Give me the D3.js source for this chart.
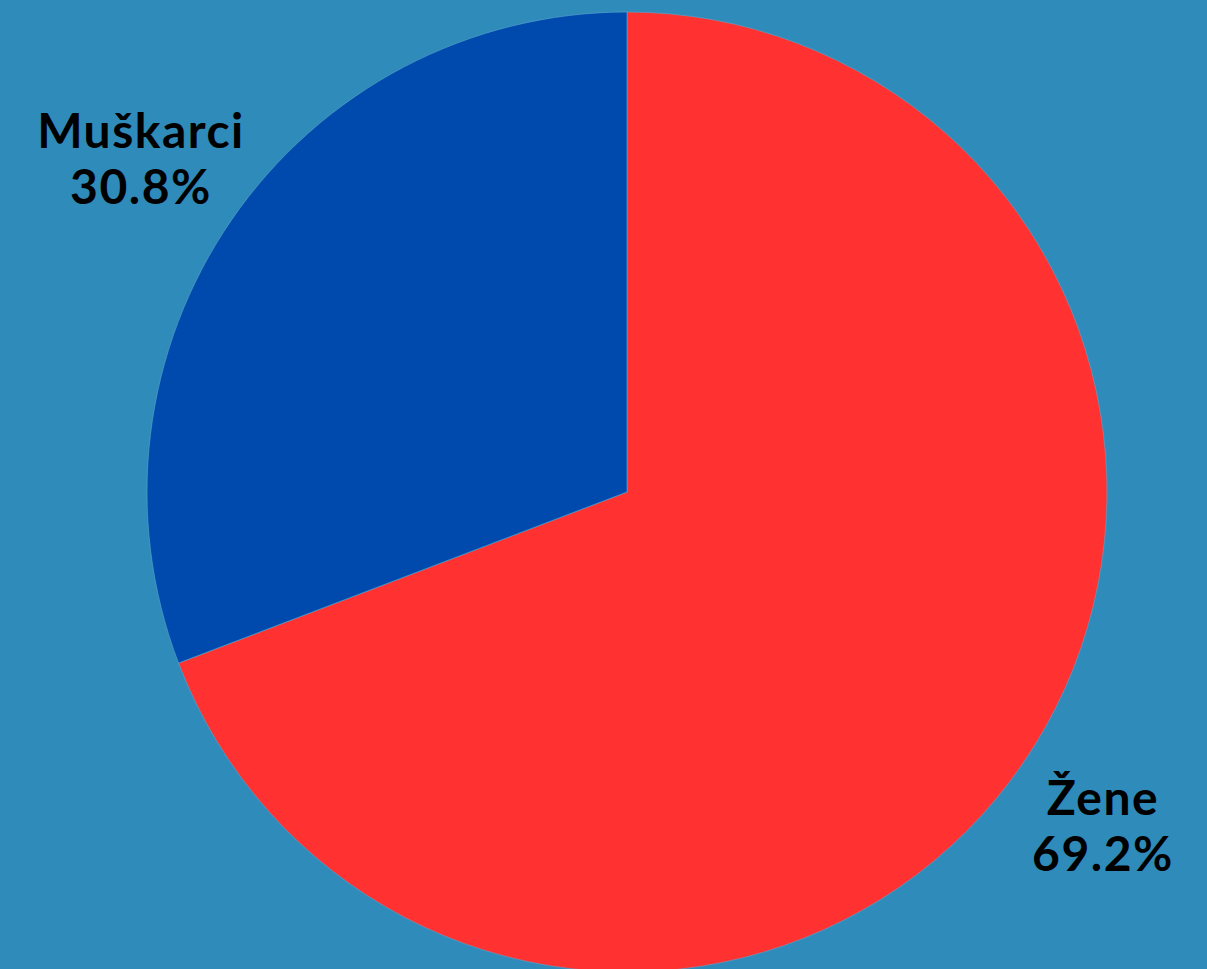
<!DOCTYPE html>
<html><head><meta charset="utf-8">
<script src="https://cdn.jsdelivr.net/npm/d3@7"></script>
<style>html,body{margin:0;padding:0;background:#2E8BBA;overflow:hidden}</style>
</head><body>
<svg id="c" width="1207" height="969"></svg>
<script>
const categories = ["Žene", "Muškarci"];
const values = [69.2, 30.8];
const colors = ["#FF3131", "#004AAD"];
const labelPos = [[1103, 798], [141, 131]];

const svg = d3.select("#c");
const cx = 627, cy = 492, r = 480;
const pie = d3.pie().sort(null).value(d => d)(values);
const arc = d3.arc().innerRadius(0).outerRadius(r);
const g = svg.append("g").attr("transform", `translate(${cx},${cy})`);
g.selectAll("path").data(pie).join("path")
  .attr("d", arc).attr("fill", (d, i) => colors[i])
  .attr("stroke", "#5aa7cf").attr("stroke-width", 0.6);

const lg = svg.append("g");
categories.forEach((c, i) => {
  const t = lg.append("text").attr("x", labelPos[i][0]).attr("y", labelPos[i][1])
    .attr("text-anchor", "middle").attr("font-family", "Lato, sans-serif")
    .attr("font-size", 48).attr("font-weight", 700).attr("fill", "#000")
    .attr("letter-spacing", 1.5);
  t.append("tspan").attr("x", labelPos[i][0]).attr("dy", "0.35em").text(c);
  t.append("tspan").attr("x", labelPos[i][0]).attr("dy", 56).text(values[i].toFixed(1) + "%");
});
</script>
</body></html>
